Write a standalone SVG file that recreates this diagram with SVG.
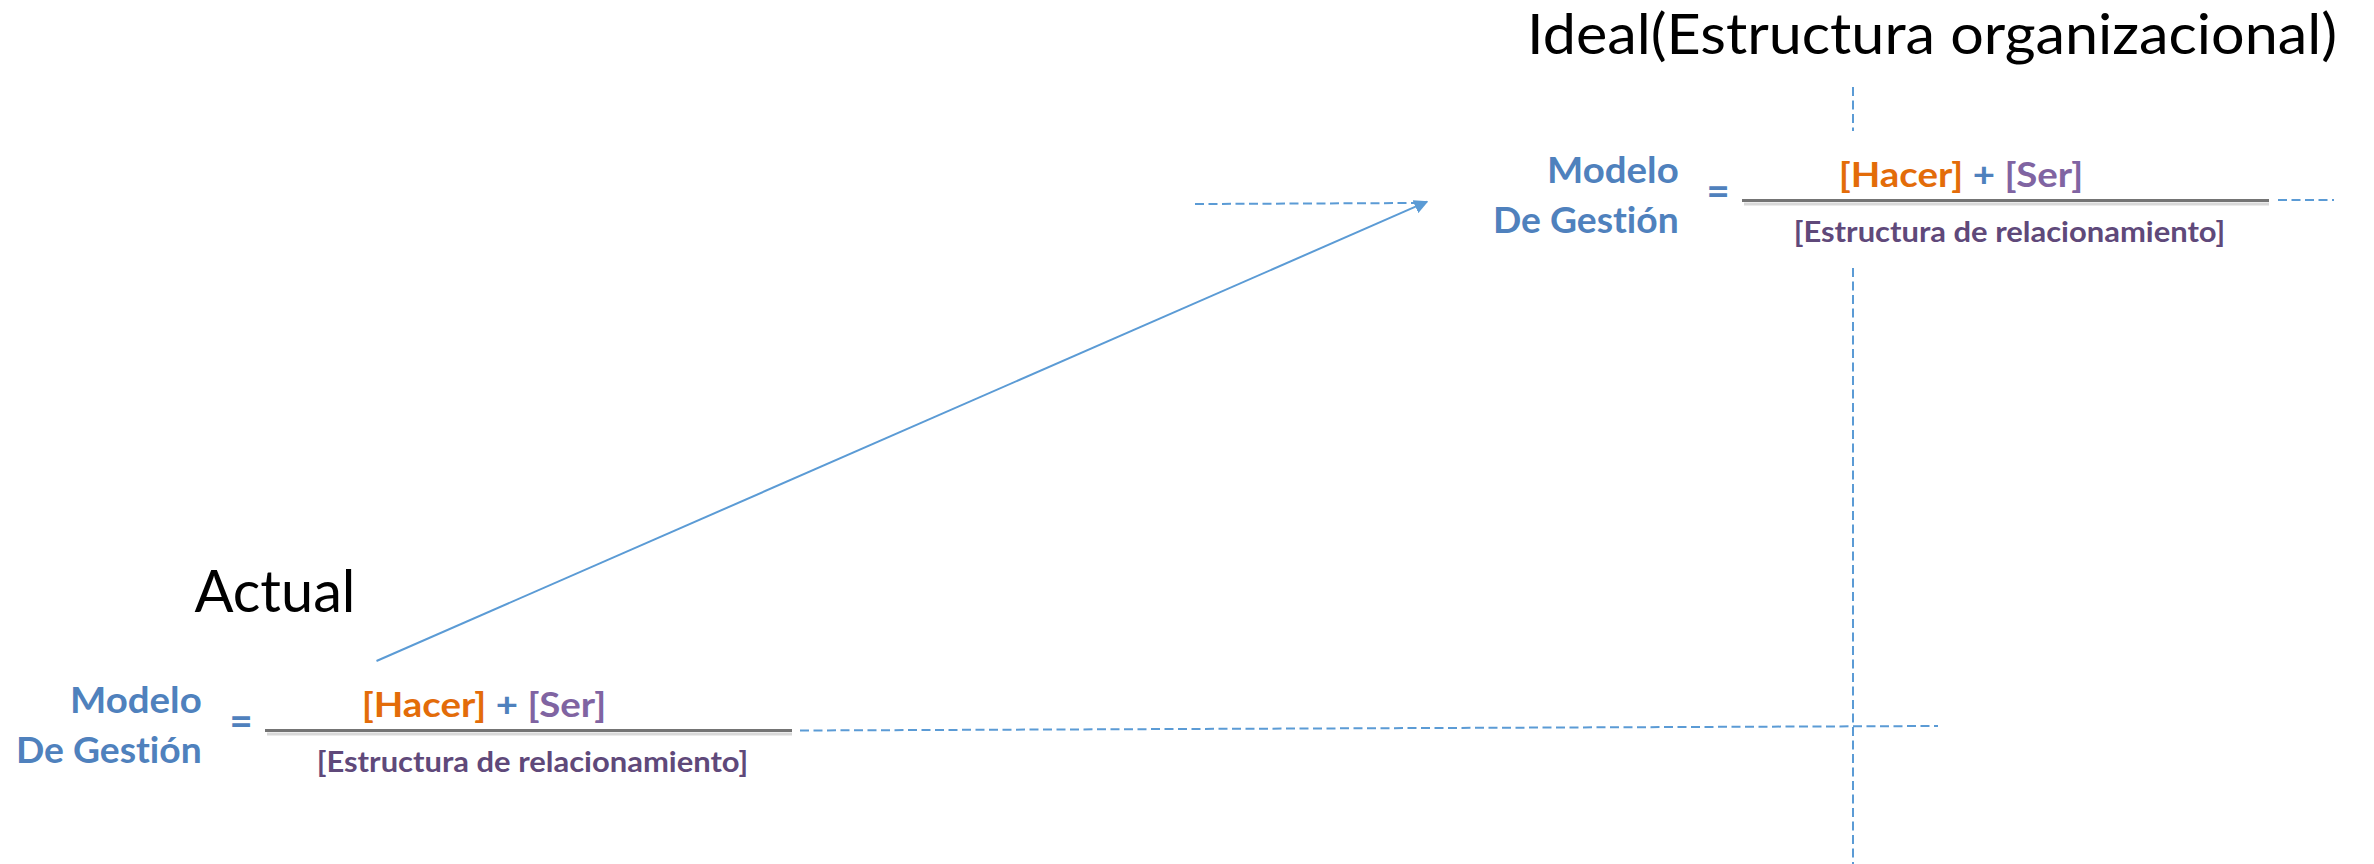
<svg xmlns="http://www.w3.org/2000/svg" xmlns:xlink="http://www.w3.org/1999/xlink" width="2374" height="864" viewBox="0 0 2374 864">
<style>
text{font-variant-ligatures:none}
.title{font-family:Lato,"Liberation Sans",sans-serif;font-weight:400;fill:#000}
.lbl{font-family:Lato,"Liberation Sans",sans-serif;font-weight:700;fill:#4F81BD;font-size:37px}
.eq{font-family:Lato,"Liberation Sans",sans-serif;font-weight:700;fill:#4F81BD;font-size:40px}
.num{font-family:Lato,"Liberation Sans",sans-serif;font-weight:700;font-size:35px}
.den{font-family:Lato,"Liberation Sans",sans-serif;font-weight:700;font-size:28.5px;fill:#5F497A}
.hacer{fill:#E36C09}
.plus{fill:#4F81BD}
.ser{fill:#8064A2}
.bar{stroke:#747474;stroke-width:3}
.barsh{stroke:#c8c8c8;stroke-width:3;opacity:0.7}
.dash{stroke:#5B9BD5;stroke-width:2;stroke-dasharray:9 4.5;fill:none}
.arrow{stroke:#5B9BD5;stroke-width:2;fill:none}
</style>
<defs>
<marker id="ah" viewBox="0 0 10 10" refX="9" refY="5" markerWidth="7" markerHeight="7" markerUnits="strokeWidth" orient="auto">
<path d="M0,0 L10,5 L0,10 Z" fill="#5B9BD5"/>
</marker>
<g id="formula">
<text class="lbl" x="201.7" y="713.3" text-anchor="end" textLength="131.7" lengthAdjust="spacingAndGlyphs">Modelo</text>
<text class="lbl" x="201.7" y="762.7" text-anchor="end" textLength="185.7" lengthAdjust="spacingAndGlyphs">De Gestión</text>
<text class="eq" x="241" y="735" text-anchor="middle">=</text>
<line class="barsh" x1="267" y1="734" x2="792" y2="734"/>
<line class="bar" x1="265" y1="730.5" x2="792" y2="730.5"/>
<text class="num" x="361.7" y="716.7" textLength="244.5" lengthAdjust="spacingAndGlyphs"><tspan class="hacer">[Hacer]</tspan> <tspan class="plus">+</tspan> <tspan class="ser">[Ser]</tspan></text>
<text class="den" x="316.7" y="771.7" textLength="431.6" lengthAdjust="spacingAndGlyphs">[Estructura de relacionamiento]</text>
</g>
</defs>
<g id="connectors">
<line class="dash" x1="800" y1="730.5" x2="1938" y2="726"/>
<line class="dash" x1="1853" y1="87" x2="1853" y2="131"/>
<line class="dash" x1="1853" y1="268" x2="1853" y2="864"/>
<line class="dash" x1="2278" y1="200" x2="2334" y2="200"/>
<line class="dash" x1="1195" y1="204" x2="1420" y2="203"/>
<line class="arrow" x1="376.5" y1="661" x2="1427" y2="201.7" marker-end="url(#ah)"/>
</g>
<g id="node-ideal-title">
<text class="title" x="1527" y="54" font-size="57" textLength="810" lengthAdjust="spacingAndGlyphs">Ideal(Estructura organizacional)</text>
</g>
<g id="node-actual-title">
<text class="title" x="194.5" y="611.7" font-size="58" textLength="161" lengthAdjust="spacingAndGlyphs">Actual</text>
</g>
<g id="node-formula-actual">
<use xlink:href="#formula"/>
</g>
<g id="node-formula-ideal">
<use xlink:href="#formula" transform="translate(1477,-530)"/>
</g>
</svg>
